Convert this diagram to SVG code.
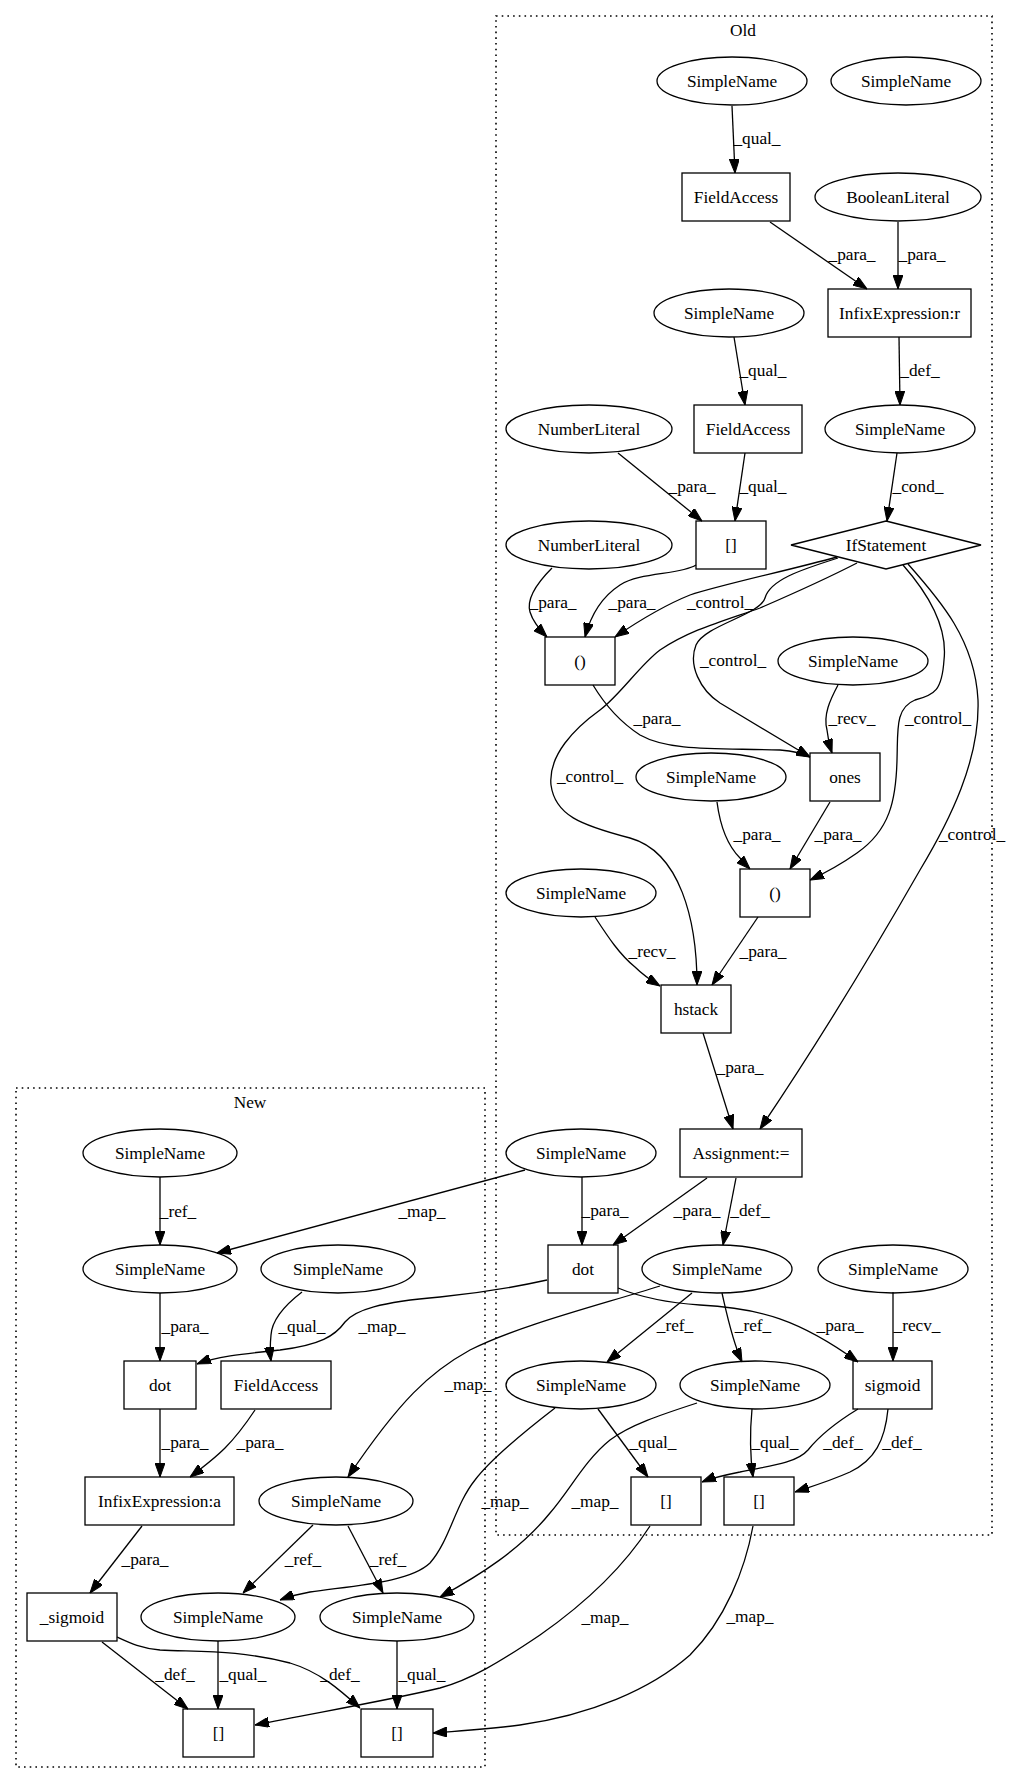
<svg xmlns="http://www.w3.org/2000/svg" width="1027" height="1784" viewBox="0 0 1027 1784">
<defs>
<marker id="ah" viewBox="0 0 14 10" refX="14" refY="5" markerWidth="14" markerHeight="10" orient="auto" markerUnits="userSpaceOnUse"><path d="M0,0 L14,5 L0,10 z" fill="#000" stroke="#000" stroke-width="1"/></marker>
<style>
text{font-family:"Liberation Serif","Times New Roman",serif;font-size:17.3px;fill:#000;text-anchor:middle}
.n ellipse,.n rect,.n polygon{fill:none;stroke:#000;stroke-width:1.3}
.c{fill:none;stroke:#000;stroke-width:1.6;stroke-dasharray:1.6 4.1}
#edges path{fill:none;stroke:#000;stroke-width:1.3;marker-end:url(#ah)}
</style>
</defs>
<rect width="1027" height="1784" fill="#fff"/>
<g id="cluster_old"><rect class="c" x="496" y="16" width="496" height="1519"/><text x="743" y="36">Old</text></g>
<g id="cluster_new"><rect class="c" x="16" y="1088" width="469" height="679"/><text x="250" y="1108">New</text></g>

<g id="edges">
<path d="M732,106 L735,173"/>
<path d="M770,222 L867,289"/>
<path d="M898,222 L898,289"/>
<path d="M899,337 L900,405"/>
<path d="M734,337 L745,405"/>
<path d="M618,453 L702,521"/>
<path d="M745,453 L735,521"/>
<path d="M897,453 L887,521"/>
<path d="M552,568 C538,582 526,598 530,612 C533,622 540,630 547,637"/>
<path d="M696,565 C680,575 640,572 620,585 C600,598 590,618 585,637"/>
<path d="M837,557 C790,570 720,585 690,595 C665,605 640,620 615,637"/>
<path d="M838,558 C800,570 770,580 765,598 C760,615 705,625 696,645 C688,665 700,690 720,703 L810,757"/>
<path d="M857,563 C820,582 790,595 760,608 C720,622 690,630 660,650 C640,665 620,695 600,710 C575,728 548,755 551,785 C555,815 580,825 630,838 C680,852 697,920 697,985"/>
<path d="M903,565 C925,590 948,625 944,660 C942,690 935,695 915,700 C895,708 898,730 897,760 C896,800 890,830 857,853 C840,865 825,873 810,880"/>
<path d="M908,564 C940,600 975,640 978,700 C980,760 950,820 920,870 C880,940 820,1040 760,1129"/>
<path d="M593,685 C605,705 620,722 640,735 C670,752 720,748 780,750 C792,751 802,753 810,757"/>
<path d="M838,685 C830,700 823,715 827,730 C828,740 830,747 832,753"/>
<path d="M717,802 C720,825 727,845 740,858 C744,862 747,866 750,869"/>
<path d="M830,802 L790,869"/>
<path d="M595,917 C608,937 620,955 635,967 C643,975 652,981 660,986"/>
<path d="M758,917 L712,985"/>
<path d="M703,1033 L733,1129"/>
<path d="M582,1177 L582,1245"/>
<path d="M707,1178 L613,1245"/>
<path d="M736,1178 L723,1245"/>
<path d="M692,1293 L607,1362"/>
<path d="M722,1293 C727,1315 732,1340 742,1362"/>
<path d="M618,1288 C640,1297 670,1303 700,1305 C760,1308 800,1320 858,1362"/>
<path d="M893,1292 L893,1361"/>
<path d="M598,1409 L648,1477"/>
<path d="M752,1409 C750,1430 750,1455 753,1477"/>
<path d="M858,1409 C840,1420 820,1435 808,1450 C795,1465 760,1467 740,1472 C725,1475 712,1478 702,1482"/>
<path d="M888,1409 C885,1440 875,1460 850,1472 C830,1481 810,1487 795,1492"/>
<path d="M525,1170 L217,1253"/>
<path d="M547,1280 C520,1286 490,1292 440,1297 C380,1302 355,1310 345,1322 C335,1336 320,1345 280,1350 C240,1354 215,1357 197,1364"/>
<path d="M660,1286 C600,1305 520,1325 470,1350 C430,1372 400,1400 348,1477"/>
<path d="M555,1408 C520,1435 490,1460 475,1480 C455,1505 450,1540 430,1563 C410,1582 360,1585 310,1592 C298,1594 288,1597 280,1600"/>
<path d="M697,1403 C660,1415 630,1425 610,1440 C585,1460 570,1490 550,1513 C520,1550 480,1575 440,1597"/>
<path d="M650,1526 C625,1565 590,1600 540,1635 C500,1662 470,1680 440,1688 C390,1700 320,1712 255,1725"/>
<path d="M753,1526 C745,1570 725,1620 690,1655 C650,1690 590,1715 520,1725 C490,1729 460,1731 433,1733"/>
<path d="M160,1177 L160,1245"/>
<path d="M160,1293 L160,1361"/>
<path d="M302,1292 C285,1305 272,1320 271,1335 C270,1345 270,1353 271,1361"/>
<path d="M160,1409 L160,1477"/>
<path d="M255,1410 C245,1425 235,1438 225,1448 C215,1458 202,1468 190,1477"/>
<path d="M142,1526 L90,1593"/>
<path d="M313,1525 L243,1593"/>
<path d="M348,1526 L383,1593"/>
<path d="M102,1642 L188,1709"/>
<path d="M117,1637 C130,1643 140,1648 160,1650 C200,1652 240,1650 290,1663 C320,1672 340,1690 360,1708"/>
<path d="M218,1641 L218,1709"/>
<path d="M397,1641 L397,1709"/>
<g id="edge_labels">
<text x="757" y="144">_qual_</text>
<text x="852" y="260">_para_</text>
<text x="922" y="260">_para_</text>
<text x="920" y="376">_def_</text>
<text x="763" y="376">_qual_</text>
<text x="692" y="492">_para_</text>
<text x="763" y="492">_qual_</text>
<text x="918" y="492">_cond_</text>
<text x="553" y="608">_para_</text>
<text x="632" y="608">_para_</text>
<text x="720" y="608">_control_</text>
<text x="733" y="666">_control_</text>
<text x="590" y="782">_control_</text>
<text x="938" y="724">_control_</text>
<text x="972" y="840">_control_</text>
<text x="657" y="724">_para_</text>
<text x="852" y="724">_recv_</text>
<text x="757" y="840">_para_</text>
<text x="838" y="840">_para_</text>
<text x="652" y="957">_recv_</text>
<text x="763" y="957">_para_</text>
<text x="740" y="1073">_para_</text>
<text x="605" y="1216">_para_</text>
<text x="697" y="1216">_para_</text>
<text x="750" y="1216">_def_</text>
<text x="675" y="1331">_ref_</text>
<text x="753" y="1331">_ref_</text>
<text x="840" y="1331">_para_</text>
<text x="917" y="1331">_recv_</text>
<text x="653" y="1448">_qual_</text>
<text x="775" y="1448">_qual_</text>
<text x="843" y="1448">_def_</text>
<text x="902" y="1448">_def_</text>
<text x="422" y="1217">_map_</text>
<text x="382" y="1332">_map_</text>
<text x="468" y="1390">_map_</text>
<text x="505" y="1507">_map_</text>
<text x="595" y="1507">_map_</text>
<text x="605" y="1623">_map_</text>
<text x="750" y="1622">_map_</text>
<text x="178" y="1217">_ref_</text>
<text x="185" y="1332">_para_</text>
<text x="302" y="1332">_qual_</text>
<text x="185" y="1448">_para_</text>
<text x="260" y="1448">_para_</text>
<text x="145" y="1565">_para_</text>
<text x="303" y="1565">_ref_</text>
<text x="388" y="1565">_ref_</text>
<text x="175" y="1680">_def_</text>
<text x="340" y="1680">_def_</text>
<text x="243" y="1680">_qual_</text>
<text x="422" y="1680">_qual_</text>
</g>
</g>

<g id="o_sn1" class="n"><ellipse cx="732" cy="81" rx="75" ry="24"/><text x="732" y="87">SimpleName</text></g>
<g id="o_sn2" class="n"><ellipse cx="906" cy="81" rx="75" ry="24"/><text x="906" y="87">SimpleName</text></g>
<g id="o_fa1" class="n"><rect x="682" y="173" width="108" height="48"/><text x="736" y="203">FieldAccess</text></g>
<g id="o_bool" class="n"><ellipse cx="898" cy="197" rx="83" ry="24"/><text x="898" y="203">BooleanLiteral</text></g>
<g id="o_infix" class="n"><rect x="828" y="289" width="143" height="48"/><text x="899.5" y="319">InfixExpression:r</text></g>
<g id="o_sn3" class="n"><ellipse cx="729" cy="313" rx="75" ry="24"/><text x="729" y="319">SimpleName</text></g>
<g id="o_num1" class="n"><ellipse cx="589" cy="429" rx="83" ry="24"/><text x="589" y="435">NumberLiteral</text></g>
<g id="o_fa2" class="n"><rect x="694" y="405" width="108" height="48"/><text x="748" y="435">FieldAccess</text></g>
<g id="o_sn4" class="n"><ellipse cx="900" cy="429" rx="75" ry="24"/><text x="900" y="435">SimpleName</text></g>
<g id="o_num2" class="n"><ellipse cx="589" cy="545" rx="83" ry="24"/><text x="589" y="551">NumberLiteral</text></g>
<g id="o_idx1" class="n"><rect x="696" y="521" width="70" height="48"/><text x="731" y="551">[]</text></g>
<g id="o_if" class="n"><polygon points="886,521 981,545 886,569 791,545"/><text x="886" y="551">IfStatement</text></g>
<g id="o_par1" class="n"><rect x="545" y="637" width="70" height="48"/><text x="580" y="667">()</text></g>
<g id="o_sn5" class="n"><ellipse cx="853" cy="661" rx="75" ry="24"/><text x="853" y="667">SimpleName</text></g>
<g id="o_ones" class="n"><rect x="810" y="753" width="70" height="48"/><text x="845" y="783">ones</text></g>
<g id="o_sn6" class="n"><ellipse cx="711" cy="777" rx="75" ry="24"/><text x="711" y="783">SimpleName</text></g>
<g id="o_par2" class="n"><rect x="740" y="869" width="70" height="48"/><text x="775" y="899">()</text></g>
<g id="o_sn7" class="n"><ellipse cx="581" cy="893" rx="75" ry="24"/><text x="581" y="899">SimpleName</text></g>
<g id="o_hstack" class="n"><rect x="661" y="985" width="70" height="48"/><text x="696" y="1015">hstack</text></g>
<g id="o_assign" class="n"><rect x="680" y="1129" width="122" height="48"/><text x="741" y="1159">Assignment:=</text></g>
<g id="o_sn8" class="n"><ellipse cx="581" cy="1153" rx="75" ry="24"/><text x="581" y="1159">SimpleName</text></g>
<g id="o_dot" class="n"><rect x="548" y="1245" width="70" height="48"/><text x="583" y="1275">dot</text></g>
<g id="o_sn9" class="n"><ellipse cx="717" cy="1269" rx="75" ry="24"/><text x="717" y="1275">SimpleName</text></g>
<g id="o_sn10" class="n"><ellipse cx="893" cy="1269" rx="75" ry="24"/><text x="893" y="1275">SimpleName</text></g>
<g id="o_sn11" class="n"><ellipse cx="581" cy="1385" rx="75" ry="24"/><text x="581" y="1391">SimpleName</text></g>
<g id="o_sn12" class="n"><ellipse cx="755" cy="1385" rx="75" ry="24"/><text x="755" y="1391">SimpleName</text></g>
<g id="o_sigmoid" class="n"><rect x="853" y="1361" width="79" height="48"/><text x="892.5" y="1391">sigmoid</text></g>
<g id="o_idx2" class="n"><rect x="631" y="1477" width="70" height="48"/><text x="666" y="1507">[]</text></g>
<g id="o_idx3" class="n"><rect x="724" y="1477" width="70" height="48"/><text x="759" y="1507">[]</text></g>

<g id="n_sn1" class="n"><ellipse cx="160" cy="1153" rx="77" ry="24"/><text x="160" y="1159">SimpleName</text></g>
<g id="n_sn2" class="n"><ellipse cx="160" cy="1269" rx="77" ry="24"/><text x="160" y="1275">SimpleName</text></g>
<g id="n_sn3" class="n"><ellipse cx="338" cy="1269" rx="77" ry="24"/><text x="338" y="1275">SimpleName</text></g>
<g id="n_dot" class="n"><rect x="124" y="1361" width="72" height="48"/><text x="160" y="1391">dot</text></g>
<g id="n_fa" class="n"><rect x="221" y="1361" width="110" height="48"/><text x="276" y="1391">FieldAccess</text></g>
<g id="n_infix" class="n"><rect x="85" y="1477" width="149" height="48"/><text x="159.5" y="1507">InfixExpression:a</text></g>
<g id="n_sn4" class="n"><ellipse cx="336" cy="1501" rx="77" ry="24"/><text x="336" y="1507">SimpleName</text></g>
<g id="n_sigmoid" class="n"><rect x="27" y="1593" width="90" height="48"/><text x="72" y="1623">_sigmoid</text></g>
<g id="n_sn5" class="n"><ellipse cx="218" cy="1617" rx="77" ry="24"/><text x="218" y="1623">SimpleName</text></g>
<g id="n_sn6" class="n"><ellipse cx="397" cy="1617" rx="77" ry="24"/><text x="397" y="1623">SimpleName</text></g>
<g id="n_idx1" class="n"><rect x="183" y="1709" width="71" height="48"/><text x="218.5" y="1739">[]</text></g>
<g id="n_idx2" class="n"><rect x="361" y="1709" width="72" height="48"/><text x="397" y="1739">[]</text></g>
</svg>
